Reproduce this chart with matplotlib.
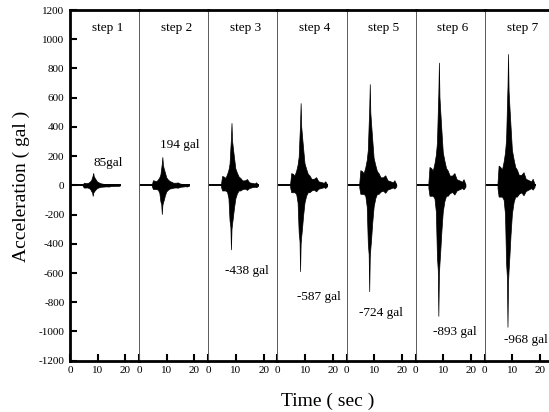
import numpy as np
import matplotlib.pyplot as plt

plt.rcParams['font.family'] = ['Liberation Serif', 'DejaVu Serif']
plt.rcParams['axes.unicode_minus'] = False

# tiempos (s) donde se leyeron las envolventes del registro
t = [4.6, 5.0, 5.6, 6.2, 6.8, 7.3, 7.7, 8.0, 8.2, 8.4, 8.6, 8.9, 9.3, 9.8,
     10.4, 11.0, 11.6, 12.3, 13.2, 14.0, 14.8, 15.8, 16.8, 17.3, 18.0]
t_line = [0, 18]   # linea base del registro
a_line = [0, 0]

steps = ['step 1', 'step 2', 'step 3', 'step 4', 'step 5', 'step 6', 'step 7']

# envolvente superior (gal)
up1 = [5, 18, 16, 15, 20, 28, 38, 55, 68, 85, 62, 52, 40, 26, 20, 15, 12, 10, 10, 10, 7, 6, 5, 6, 3]
up2 = [6, 35, 32, 28, 40, 55, 75, 120, 150, 194, 140, 115, 90, 55, 40, 30, 25, 18, 18, 20, 12, 10, 8, 10, 4]
up3 = [9, 64, 60, 51, 77, 107, 149, 256, 320, 427, 307, 256, 192, 115, 85, 60, 51, 34, 34, 43, 21, 17, 13, 21, 4]
up4 = [11, 84, 79, 68, 101, 141, 197, 338, 422, 563, 405, 338, 253, 152, 113, 79, 68, 45, 45, 56, 28, 23, 17, 28, 6]
up5 = [14, 104, 97, 83, 125, 173, 243, 416, 520, 693, 499, 416, 312, 187, 139, 97, 83, 55, 55, 69, 35, 28, 21, 35, 7]
up6 = [17, 126, 118, 101, 151, 210, 294, 504, 630, 840, 605, 504, 378, 227, 168, 118, 101, 67, 67, 84, 42, 34, 25, 42, 8]
up7 = [18, 135, 126, 108, 162, 225, 315, 540, 674, 899, 647, 539, 405, 243, 180, 126, 108, 72, 72, 90, 45, 36, 27, 45, 9]

# envolvente inferior (gal)
lo1 = [-4, -15, -15, -14, -18, -25, -40, -48, -72, -50, -44, -36, -27, -18, -14, -10, -9, -8, -7, -8, -5, -4, -3, -4, -2]
lo2 = [-6, -25, -25, -25, -30, -50, -110, -130, -196, -135, -118, -100, -70, -42, -30, -22, -20, -16, -14, -16, -10, -8, -6, -8, -3]
lo3 = [-9, -35, -35, -35, -44, -88, -241, -285, -438, -298, -263, -219, -153, -88, -53, -35, -35, -26, -22, -31, -18, -13, -9, -13, -4]
lo4 = [-12, -47, -47, -47, -59, -117, -323, -382, -587, -399, -352, -294, -205, -117, -70, -47, -47, -35, -29, -41, -23, -18, -12, -18, -6]
lo5 = [-14, -58, -58, -58, -72, -145, -398, -471, -724, -492, -434, -362, -253, -145, -87, -58, -58, -43, -36, -51, -29, -22, -14, -22, -7]
lo6 = [-18, -71, -71, -71, -89, -179, -491, -580, -893, -607, -536, -447, -313, -179, -107, -71, -71, -54, -45, -63, -36, -27, -18, -27, -9]
lo7 = [-19, -77, -77, -77, -97, -194, -532, -629, -968, -658, -581, -484, -339, -194, -116, -77, -77, -58, -48, -68, -39, -29, -19, -29, -10]

upper = [up1, up2, up3, up4, up5, up6, up7]
lower = [lo1, lo2, lo3, lo4, lo5, lo6, lo7]

# etiquetas de pico y donde van
peak_txt = ['85gal', '194 gal', '-438 gal', '-587 gal', '-724 gal', '-893 gal', '-968 gal']
peak_x = [13.7, 14.6, 14.0, 14.9, 12.3, 14.1, 15.0]
peak_y = [153, 276, -584, -762, -873, -1001, -1058]

fig = plt.figure(figsize=(5.49, 4.12), dpi=100)
axs = fig.subplots(1, 7, sharey=True)
fig.subplots_adjust(left=0.1275, right=1.009, bottom=0.1245, top=0.9757, wspace=0)

for i in range(7):
    ax = axs[i]
    ax.plot(t_line, a_line, 'k', linewidth=1.4)
    ax.fill_between(t, lower[i], upper[i], color='k', linewidth=0.5, edgecolor='k')
    ax.set_xlim(0, 25)
    ax.set_ylim(-1200, 1200)
    ax.set_xticks([0, 10, 20])
    ax.tick_params(axis='x', direction='in', length=5, width=1.5, labelsize=8, pad=4)
    ax.text(13.5, 1075, steps[i], ha='center', va='center', fontsize=9.5)
    ax.text(peak_x[i], peak_y[i], peak_txt[i], ha='center', va='center', fontsize=9.5)
    ax.spines['top'].set_linewidth(2)
    ax.spines['bottom'].set_linewidth(2)
    ax.spines['right'].set_visible(False)
    if i == 0:
        ax.spines['left'].set_linewidth(2)
        ax.set_yticks(np.arange(-1200, 1201, 200))
        ax.tick_params(axis='y', direction='in', length=5, width=1.5, labelsize=8, pad=4)
    else:
        ax.spines['left'].set_linewidth(0.7)
        ax.spines['left'].set_color('0.35')
        ax.tick_params(axis='y', left=False, labelleft=False)
    if i == 6:
        ax.spines['right'].set_visible(True)
        ax.spines['right'].set_linewidth(2)

fig.text(21 / 549, 1 - 186 / 412, 'Acceleration ( gal )', rotation=90,
         ha='center', va='center', fontsize=14)
fig.text(328 / 549, 1 - 401 / 412, 'Time ( sec )', ha='center', va='center', fontsize=14)

fig.savefig('out.png', dpi=100)
